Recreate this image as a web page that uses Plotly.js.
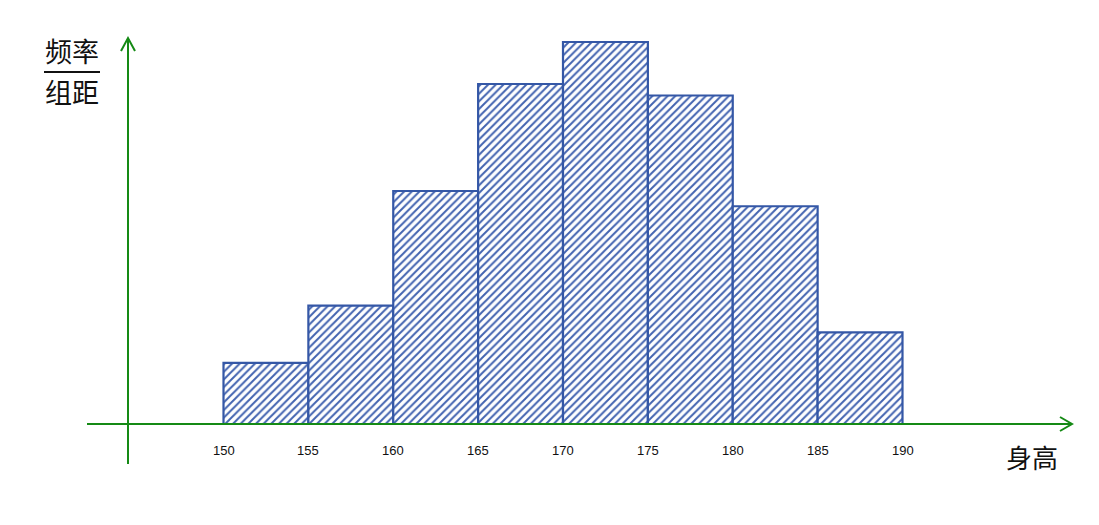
<!DOCTYPE html>
<html>
<head>
<meta charset="utf-8">
<script src="https://cdn.plot.ly/plotly-3.0.1.min.js"></script>
<style>html,body{margin:0;padding:0;background:#fff;}#chart{width:1099px;height:525px;}</style>
</head>
<body>
<div id="chart"></div>
<script>
// Data
const binStarts = [150, 155, 160, 165, 170, 175, 180, 185];
const binWidth = 5;
const densities = [0.016, 0.031, 0.061, 0.089, 0.1, 0.086, 0.057, 0.024];
const tickValues = [150, 155, 160, 165, 170, 175, 180, 185, 190];
const tickLabels = ['150', '155', '160', '165', '170', '175', '180', '185', '190'];
const yTitleTop = '频率';
const yTitleBottom = '组距';
const xTitle = '身高';

const W = 1099, H = 525;
const px = v => v / W;
const py = v => 1 - v / H;
const green = '#158a15';
const blue = '#3457a6';

const trace = {
  type: 'bar',
  x: binStarts.map(s => s + binWidth / 2),
  y: densities,
  width: binStarts.map(() => binWidth),
  marker: {
    color: '#ffffff',
    line: {color: blue, width: 2.2},
    pattern: {shape: '/', fgcolor: '#4263b0', bgcolor: '#ffffff', size: 5.4, solidity: 0.36, fillmode: 'replace'}
  },
  hoverinfo: 'skip'
};

const annotations = tickValues.map((v, i) => ({
  x: v, y: 0, xref: 'x', yref: 'y', text: tickLabels[i], showarrow: false,
  xanchor: 'center', yanchor: 'middle',
  yshift: -26, font: {family: 'Liberation Sans, Arial, sans-serif', size: 13, color: '#111'}
}));
annotations.push(
  {x: px(72), y: py(50), xref: 'paper', yref: 'paper', text: yTitleTop, showarrow: false,
   xanchor: 'center', yanchor: 'middle',
   font: {family: 'Noto Sans CJK SC', size: 27, color: '#111'}},
  {x: px(72), y: py(91), xref: 'paper', yref: 'paper', text: yTitleBottom, showarrow: false,
   xanchor: 'center', yanchor: 'middle',
   font: {family: 'Noto Sans CJK SC', size: 27, color: '#111'}},
  {x: px(1032), y: py(456), xref: 'paper', yref: 'paper', text: xTitle, showarrow: false,
   xanchor: 'center', yanchor: 'middle',
   font: {family: 'Noto Sans CJK SC', size: 26, color: '#111'}}
);

const shapes = [
  {type: 'line', xref: 'paper', yref: 'paper', x0: px(87), x1: px(1071), y0: py(424), y1: py(424), line: {color: green, width: 2}},
  {type: 'line', xref: 'paper', yref: 'paper', x0: px(128), x1: px(128), y0: py(464), y1: py(39), line: {color: green, width: 2}},
  {type: 'path', xref: 'paper', yref: 'paper',
   path: `M ${px(1060)} ${py(417)} L ${px(1072)} ${py(424)} L ${px(1060)} ${py(431)}`,
   line: {color: green, width: 2}},
  {type: 'path', xref: 'paper', yref: 'paper',
   path: `M ${px(121)} ${py(51)} L ${px(128)} ${py(38)} L ${px(135)} ${py(51)}`,
   line: {color: green, width: 2}},
  {type: 'line', xref: 'paper', yref: 'paper', x0: px(44), x1: px(100), y0: py(72), y1: py(72), line: {color: '#111', width: 2}}
];

const pxPerUnitX = 679 / 40;
const pxPerUnitY = 3820;
const layout = {
  width: W, height: H,
  margin: {l: 0, r: 0, t: 0, b: 0, pad: 0},
  paper_bgcolor: '#ffffff', plot_bgcolor: '#ffffff',
  showlegend: false,
  xaxis: {range: [150 - 223.5 / pxPerUnitX, 190 + 196.5 / pxPerUnitX], visible: false, fixedrange: true},
  yaxis: {range: [-101 / pxPerUnitY, 424 / pxPerUnitY], visible: false, fixedrange: true},
  annotations: annotations,
  shapes: shapes,
  bargap: 0
};

Plotly.newPlot('chart', [trace], layout, {displayModeBar: false, staticPlot: true});
</script>
</body>
</html>
